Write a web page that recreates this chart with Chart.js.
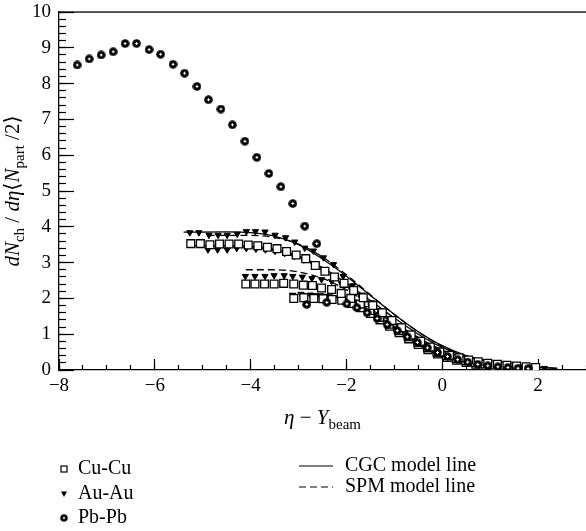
<!DOCTYPE html>
<html>
<head>
<meta charset="utf-8">
<script src="https://cdn.jsdelivr.net/npm/chart.js@4.4.1/dist/chart.umd.min.js"></script>
<style>
  html, body { margin: 0; padding: 0; background: #fff; }
</style>
</head>
<body>
<canvas id="chart" width="586" height="531"></canvas>
<script>
// tick labels
const xTickValues = [-8, -6, -4, -2, 0, 2];
const yTickValues = [0, 1, 2, 3, 4, 5, 6, 7, 8, 9, 10];

// Pb-Pb (two energies)
const etaPbPbHigh = [-7.62, -7.37, -7.12, -6.87, -6.62, -6.38, -6.12, -5.88, -5.62, -5.38, -5.12, -4.88, -4.62, -4.38, -4.12, -3.87, -3.62, -3.37, -3.12, -2.87, -2.62];
const valPbPbHigh = [8.52, 8.69, 8.80, 8.89, 9.12, 9.12, 8.95, 8.82, 8.54, 8.29, 7.92, 7.55, 7.29, 6.85, 6.39, 5.94, 5.49, 5.12, 4.65, 4.02, 3.53];
const etaPbPbLow = [-2.83, -2.41, -1.99, -1.78, -1.57, -1.36, -1.15, -0.94, -0.73, -0.52, -0.31, -0.10, 0.11, 0.32, 0.53, 0.74, 0.95, 1.16, 1.37, 1.58, 1.79];
const valPbPbLow = [1.83, 1.89, 1.85, 1.74, 1.60, 1.44, 1.27, 1.10, 0.93, 0.77, 0.62, 0.49, 0.38, 0.29, 0.22, 0.16, 0.12, 0.09, 0.07, 0.05, 0.04];

// Cu-Cu
const etaCuCu200 = [-5.25, -5.05, -4.85, -4.65, -4.45, -4.25, -4.05, -3.85, -3.65, -3.45, -3.25, -3.05, -2.85, -2.65, -2.45, -2.25, -2.05, -1.85, -1.65, -1.45, -1.25, -1.05, -0.85, -0.65, -0.45, -0.25, -0.05, 0.15, 0.35, 0.55, 0.75, 0.95, 1.15, 1.35, 1.55, 1.75, 1.95];
const valCuCu200 = [3.53, 3.53, 3.50, 3.52, 3.52, 3.52, 3.49, 3.47, 3.43, 3.39, 3.31, 3.21, 3.11, 2.92, 2.76, 2.60, 2.42, 2.22, 2.02, 1.80, 1.60, 1.38, 1.18, 0.98, 0.80, 0.64, 0.50, 0.41, 0.34, 0.28, 0.23, 0.19, 0.16, 0.13, 0.11, 0.09, 0.07];
const etaCuCu62 = [-4.10, -3.91, -3.71, -3.51, -3.31, -3.10, -2.90, -2.71, -2.52, -2.31, -2.11, -1.91, -1.71, -1.51, -1.31, -1.11, -0.91, -0.71, -0.51, -0.31, -0.11, 0.09, 0.29, 0.49, 0.69, 0.89, 1.09, 1.29, 1.49];
const valCuCu62 = [2.40, 2.40, 2.40, 2.40, 2.42, 2.40, 2.37, 2.36, 2.29, 2.25, 2.14, 2.00, 1.84, 1.66, 1.47, 1.28, 1.10, 0.93, 0.77, 0.62, 0.50, 0.40, 0.32, 0.26, 0.21, 0.17, 0.14, 0.11, 0.09];
const etaCuCu22 = [-3.10, -2.89, -2.68, -2.49, -2.30, -2.10, -1.90, -1.70, -1.50, -1.30, -1.10, -0.90, -0.70, -0.50, -0.30, -0.10, 0.10, 0.30, 0.50, 0.70, 0.90, 1.10];
const valCuCu22 = [2.00, 2.02, 2.00, 1.99, 1.97, 1.95, 1.86, 1.74, 1.58, 1.40, 1.22, 1.04, 0.87, 0.71, 0.57, 0.45, 0.35, 0.27, 0.21, 0.16, 0.12, 0.09];

// Au-Au
const etaAuAu200 = [-5.27, -5.08, -4.87, -4.68, -4.49, -4.28, -4.09, -3.90, -3.70, -3.49, -3.27, -3.08, -2.87, -2.69, -2.48, -2.27, -2.07, -1.87, -1.67, -1.47, -1.27, -1.07, -0.87, -0.67, -0.47, -0.27, -0.07, 0.13, 0.33, 0.53, 0.73, 0.93, 1.13, 1.33, 1.53, 1.73, 1.93, 2.13];
const valAuAu200 = [3.84, 3.84, 3.77, 3.77, 3.77, 3.80, 3.87, 3.87, 3.86, 3.77, 3.70, 3.58, 3.41, 3.33, 3.14, 2.95, 2.62, 2.36, 2.10, 1.88, 1.65, 1.43, 1.22, 1.02, 0.84, 0.68, 0.54, 0.43, 0.35, 0.28, 0.23, 0.19, 0.15, 0.12, 0.10, 0.08, 0.06, 0.05];
const etaAuAu130 = [-4.89, -4.69, -4.49, -4.29, -4.09, -3.89, -3.69, -3.49, -3.29, -3.09, -2.89, -2.69, -2.49, -2.29, -2.09, -1.89, -1.69, -1.49, -1.29, -1.09, -0.89, -0.69, -0.49, -0.29, -0.09, 0.11, 0.31, 0.51, 0.71, 0.91, 1.11, 1.31, 1.51, 1.71];
const valAuAu130 = [3.36, 3.36, 3.36, 3.40, 3.40, 3.38, 3.36, 3.32, 3.26, 3.18, 3.08, 2.95, 2.80, 2.62, 2.42, 2.22, 2.01, 1.80, 1.59, 1.38, 1.18, 0.99, 0.82, 0.66, 0.53, 0.42, 0.34, 0.27, 0.22, 0.18, 0.15, 0.12, 0.10, 0.08];
const etaAuAu62 = [-4.11, -3.91, -3.70, -3.51, -3.30, -3.12, -2.92, -2.72, -2.52, -2.31, -2.10, -1.90, -1.70, -1.50, -1.30, -1.10, -0.90, -0.70, -0.50, -0.30, -0.10, 0.10, 0.30, 0.50, 0.70, 0.90, 1.10, 1.30, 1.50];
const valAuAu62 = [2.62, 2.62, 2.62, 2.64, 2.64, 2.62, 2.60, 2.56, 2.53, 2.48, 2.40, 2.26, 2.08, 1.88, 1.66, 1.44, 1.23, 1.03, 0.85, 0.69, 0.55, 0.44, 0.35, 0.28, 0.22, 0.18, 0.14, 0.11, 0.09];
const etaAuAu20 = [-2.95, -2.75, -2.55, -2.35, -2.15, -1.95, -1.75, -1.55, -1.35, -1.15, -0.95, -0.75, -0.55, -0.35, -0.15, 0.05, 0.25];
const valAuAu20 = [2.12, 2.10, 2.08, 2.05, 2.00, 1.92, 1.80, 1.64, 1.46, 1.27, 1.08, 0.90, 0.74, 0.59, 0.47, 0.37, 0.29];

// model lines
const etaCgcA = [-5.4, -4.5, -4.0, -3.5, -3.0, -2.5, -2.0, -1.5, -1.0, -0.5, 0, 0.5, 1.0, 1.5, 2.0, 2.4];
const valCgcA = [3.85, 3.86, 3.84, 3.74, 3.50, 3.10, 2.62, 2.08, 1.55, 1.07, 0.68, 0.40, 0.23, 0.13, 0.08, 0.05];
const etaCgcB = [-5.3, -4.5, -4.0, -3.5, -3.0, -2.5, -2.0, -1.5, -1.0, -0.5, 0, 0.5, 1.0, 1.5, 2.0, 2.4];
const valCgcB = [3.47, 3.47, 3.45, 3.37, 3.18, 2.86, 2.42, 1.94, 1.45, 1.00, 0.63, 0.37, 0.21, 0.12, 0.07, 0.04];
const etaSpmA = [-4.9, -4.0, -3.5, -3.0, -2.5, -2.0, -1.5, -1.0, -0.5, 0, 0.5, 1.0, 1.5, 2.0];
const valSpmA = [3.76, 3.76, 3.70, 3.52, 3.16, 2.66, 2.10, 1.55, 1.06, 0.66, 0.38, 0.20, 0.10, 0.05];
const etaSpmB = [-4.1, -3.5, -3.0, -2.5, -2.0, -1.5, -1.0, -0.5, 0, 0.5, 1.0, 1.5];
const valSpmB = [2.80, 2.80, 2.74, 2.56, 2.24, 1.82, 1.35, 0.91, 0.56, 0.31, 0.16, 0.08];
const etaSpmC = [-3.2, -2.5, -2.0, -1.5, -1.0, -0.5, 0, 0.5, 1.0];
const valSpmC = [2.14, 2.12, 1.98, 1.70, 1.30, 0.88, 0.53, 0.28, 0.14];

const serif = "'Liberation Serif', 'DejaVu Serif', serif";
const yMinorStep = 0.2;
const xMinorStep = 0.5;

function pts(xs, ys) {
  return xs.map((x, i) => ({x: x, y: ys[i]}));
}

function minorTicks(min, max, step) {
  const out = [];
  const n = Math.round((max - min) / step);
  for (let i = 0; i <= n; i++) out.push({value: min + i * step});
  return out;
}

// Pb-Pb marker: dark blob with a small light cross inside
function makePbMarker() {
  const c = document.createElement('canvas');
  c.width = 9; c.height = 9;
  const g = c.getContext('2d');
  g.fillStyle = '#000';
  g.beginPath(); g.arc(4.5, 4.5, 4.3, 0, Math.PI * 2); g.fill();
  g.fillStyle = '#fff';
  g.fillRect(4, 3, 1, 3);
  g.fillRect(3, 4, 3, 1);
  return c;
}
const pbMarker = makePbMarker();

const squareStyle = {pointStyle: 'rect', pointRadius: 5.5, borderColor: '#000', backgroundColor: '#fff', borderWidth: 1.3, showLine: false, order: 1};
const triStyle = {pointStyle: 'triangle', rotation: 180, pointRadius: 3.6, borderColor: '#000', backgroundColor: '#000', borderWidth: 1, showLine: false, order: 1};
const pbStyle = {pointStyle: pbMarker, pointRadius: 4.5, borderColor: '#000', backgroundColor: '#000', showLine: false, order: 0};
const solidStyle = {showLine: true, pointRadius: 0, borderColor: '#000', borderWidth: 1.3, fill: false, cubicInterpolationMode: 'monotone', order: 2};
const dashStyle = Object.assign({}, solidStyle, {borderDash: [7, 4]});

const datasets = [
  Object.assign({label: 'CGC a', data: pts(etaCgcA, valCgcA)}, solidStyle),
  Object.assign({label: 'CGC b', data: pts(etaCgcB, valCgcB)}, solidStyle),
  Object.assign({label: 'SPM a', data: pts(etaSpmA, valSpmA)}, dashStyle),
  Object.assign({label: 'SPM b', data: pts(etaSpmB, valSpmB)}, dashStyle),
  Object.assign({label: 'SPM c', data: pts(etaSpmC, valSpmC)}, dashStyle),
  Object.assign({label: 'Cu-Cu 200', data: pts(etaCuCu200, valCuCu200)}, squareStyle),
  Object.assign({label: 'Cu-Cu 62', data: pts(etaCuCu62, valCuCu62)}, squareStyle),
  Object.assign({label: 'Cu-Cu 22', data: pts(etaCuCu22, valCuCu22)}, squareStyle),
  Object.assign({label: 'Au-Au 200', data: pts(etaAuAu200, valAuAu200)}, triStyle),
  Object.assign({label: 'Au-Au 130', data: pts(etaAuAu130, valAuAu130)}, triStyle),
  Object.assign({label: 'Au-Au 62', data: pts(etaAuAu62, valAuAu62)}, triStyle),
  Object.assign({label: 'Au-Au 20', data: pts(etaAuAu20, valAuAu20)}, triStyle),
  Object.assign({label: 'Pb-Pb high', data: pts(etaPbPbHigh, valPbPbHigh)}, pbStyle),
  Object.assign({label: 'Pb-Pb low', data: pts(etaPbPbLow, valPbPbLow)}, pbStyle)
];

function fmtTick(v) {
  return v < 0 ? '\u2212' + Math.abs(v) : String(v);
}

// draws a run of text pieces, centred on x, with subscripts
function drawRuns(ctx, runs, cx, baseline) {
  let total = 0;
  runs.forEach(r => { ctx.font = r.font; total += ctx.measureText(r.t).width; });
  let x = cx - total / 2;
  ctx.textAlign = 'left';
  ctx.textBaseline = 'alphabetic';
  runs.forEach(r => {
    ctx.font = r.font;
    ctx.fillText(r.t, x, baseline + (r.dy || 0));
    x += ctx.measureText(r.t).width;
  });
}

const it = 'italic 21px ' + serif;
const rm = '21px ' + serif;
const sub = '15px ' + serif;
const legendFont = '20px ' + serif;

const decorations = {
  id: 'decorations',
  afterDraw(chart) {
    const ctx = chart.ctx;
    const a = chart.chartArea;
    ctx.save();
    ctx.setLineDash([]);
    ctx.strokeStyle = '#000';
    ctx.fillStyle = '#000';

    // top frame
    ctx.fillRect(a.left, a.top - 0.6, a.right - a.left, 1.3);

    // x title
    drawRuns(ctx, [
      {t: '\u03b7', font: it},
      {t: ' \u2212 ', font: rm},
      {t: 'Y', font: it},
      {t: 'beam', font: sub, dy: 5}
    ], (a.left + a.right) / 2, 424);

    // y title
    ctx.save();
    ctx.translate(19, (a.top + a.bottom) / 2);
    ctx.rotate(-Math.PI / 2);
    drawRuns(ctx, [
      {t: 'dN', font: it},
      {t: 'ch', font: sub, dy: 5},
      {t: ' / ', font: rm},
      {t: 'd\u03b7', font: it},
      {t: '\u27e8', font: rm},
      {t: 'N', font: it},
      {t: 'part', font: sub, dy: 5},
      {t: ' /2', font: rm},
      {t: '\u27e9', font: rm}
    ], 0, 0);
    ctx.restore();

    // legend, left column (markers)
    const rowsL = [469, 494, 518];
    ctx.lineWidth = 1.2;
    ctx.strokeRect(61, rowsL[0] - 3, 6, 6);
    ctx.beginPath();
    ctx.moveTo(61, rowsL[1] - 2.5); ctx.lineTo(67, rowsL[1] - 2.5); ctx.lineTo(64, rowsL[1] + 3); ctx.closePath(); ctx.fill();
    ctx.drawImage(pbMarker, 60, rowsL[2] - 4, 8, 8);
    ctx.font = legendFont;
    ctx.textBaseline = 'middle';
    ctx.textAlign = 'left';
    ['Cu-Cu', 'Au-Au', 'Pb-Pb'].forEach((t, i) => ctx.fillText(t, 78, rowsL[i]));

    // legend, right column (lines)
    const rowsR = [466, 487];
    ctx.beginPath(); ctx.moveTo(299, rowsR[0]); ctx.lineTo(333, rowsR[0]); ctx.stroke();
    ctx.setLineDash([7, 4]);
    ctx.beginPath(); ctx.moveTo(299, rowsR[1]); ctx.lineTo(333, rowsR[1]); ctx.stroke();
    ctx.setLineDash([]);
    ctx.fillText('CGC model line', 345, rowsR[0]);
    ctx.fillText('SPM model line', 345, rowsR[1]);
    ctx.restore();
  }
};

// tick marks pointing into the plot, drawn by the axes themselves
const inwardGrid = (len) => ({display: true, drawOnChartArea: false, drawTicks: true, tickLength: -len, tickColor: '#000', tickWidth: 1.2});

new Chart(document.getElementById('chart').getContext('2d'), {
  type: 'scatter',
  data: {datasets: datasets},
  options: {
    responsive: false,
    animation: false,
    layout: {autoPadding: false, padding: {top: 12, right: 0, bottom: 0, left: 0}},
    plugins: {legend: {display: false}, tooltip: {enabled: false}},
    scales: {
      x: {
        type: 'linear', min: -8, max: 3, position: 'bottom', weight: 1,
        grid: inwardGrid(11),
        border: {display: true, color: '#000', width: 1.3},
        ticks: {font: {family: serif, size: 19}, color: '#000', padding: 16, maxRotation: 0, autoSkip: false, callback: fmtTick},
        afterBuildTicks: s => { s.ticks = xTickValues.map(v => ({value: v})); },
        afterFit: s => { s.height = 161; s.paddingLeft = 0; s.paddingRight = 0; }
      },
      y: {
        type: 'linear', min: 0, max: 10, position: 'left', weight: 1,
        grid: inwardGrid(15),
        border: {display: true, color: '#000', width: 1.3},
        ticks: {font: {family: serif, size: 19}, color: '#000', padding: 23, autoSkip: false, callback: fmtTick},
        afterBuildTicks: s => { s.ticks = yTickValues.map(v => ({value: v})); },
        afterFit: s => { s.width = 59; s.paddingTop = 0; s.paddingBottom = 0; }
      },
      xMinor: {
        type: 'linear', axis: 'x', min: -8, max: 3, position: 'bottom', weight: 0,
        grid: inwardGrid(5),
        border: {display: false},
        ticks: {display: false},
        afterBuildTicks: s => { s.ticks = minorTicks(-8, 3, xMinorStep); },
        afterFit: s => { s.height = 0; s.paddingLeft = 0; s.paddingRight = 0; }
      },
      yMinor: {
        type: 'linear', axis: 'y', min: 0, max: 10, position: 'left', weight: 0,
        grid: inwardGrid(7),
        border: {display: false},
        ticks: {display: false},
        afterBuildTicks: s => { s.ticks = minorTicks(0, 10, yMinorStep); },
        afterFit: s => { s.width = 0; s.paddingTop = 0; s.paddingBottom = 0; }
      }
    }
  },
  plugins: [decorations]
});
</script>
</body>
</html>
